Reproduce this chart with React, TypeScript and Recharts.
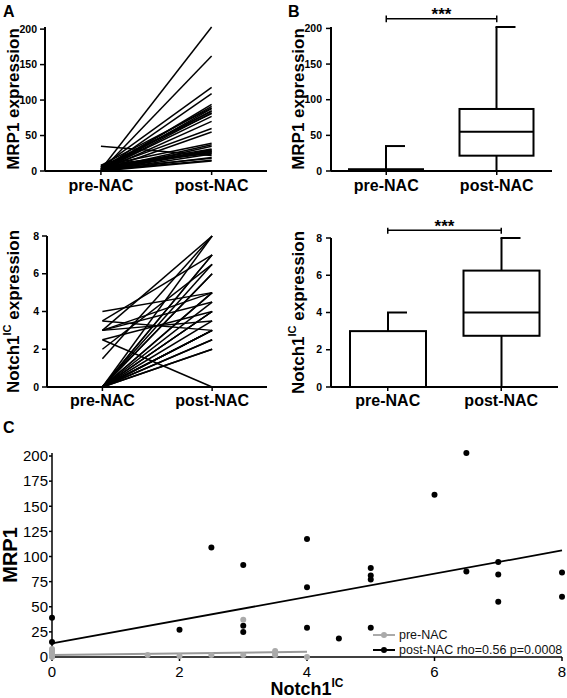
import React from "react";
import {
  ComposedChart,
  LineChart,
  Line,
  Bar,
  Scatter,
  XAxis,
  YAxis,
  ReferenceLine,
  Legend,
} from "recharts";

const FONT = '"Liberation Sans", Arial, Helvetica, sans-serif';

// categories
const CATS = ["pre-NAC", "post-NAC"];

// panel A, paired values per patient
const mrp1Pre = [2, 0, 5, 1, 0, 3, 8, 0, 2, 4, 0, 6, 1, 0, 3, 0, 7, 2, 0, 5, 1, 0, 4, 35, 0, 2, 6, 0, 3, 1, 0, 8];
const mrp1Post = [203, 162, 118, 109, 94, 91, 89, 88, 85, 84, 82, 81, 77, 70, 60, 55, 39, 37, 35, 31, 29, 28, 27, 22, 24, 30, 25, 19, 18, 15, 14, 26];
const notchPre = [4, 3.5, 3.5, 3, 3, 3, 3, 2.5, 2.5, 2, 1.5, 0, 0, 0, 0, 0, 0, 0, 0, 0, 0, 0, 0, 0, 0, 0, 0, 0, 0, 0, 0, 0];
const notchPost = [5, 7, 3, 5, 4.5, 3.5, 8, 0, 4, 6.5, 8, 8, 7, 7, 6.5, 6, 6, 5, 5, 4.5, 4, 4, 4, 3.5, 3, 3, 3, 2.5, 2.5, 2, 2, 3];

// panel B, box plot stats [pre, post]
const mrp1Min = [0, 0];
const mrp1Q1 = [0, 21.5];
const mrp1Med = [0.5, 55];
const mrp1Q3 = [2.5, 87];
const mrp1Max = [35, 202];
const notchMin = [0, 0];
const notchQ1 = [0, 2.75];
const notchMed = [0, 4];
const notchQ3 = [3, 6.25];
const notchMax = [4, 8];

// panel C scatter
const postNotchC = [0, 0, 2, 2.5, 3, 3, 3, 4, 4, 4, 4.5, 5, 5, 5, 5, 6, 6.5, 6.5, 7, 7, 7, 8, 8];
const postMrpC = [39, 15, 27, 109, 91.5, 31, 25, 117.5, 69.5, 29, 18.5, 88.5, 81, 77, 29, 161.5, 203, 85, 94.5, 82, 55, 84, 60];
const preNotchC = [0, 0, 0, 0, 0, 0, 0, 0, 0, 1.5, 2, 2.5, 3, 3, 3.5, 3.5, 3.5, 4];
const preMrpC = [0, 1, 2, 3, 4, 5, 6, 7, 8, 2, 1, 2, 37, 2, 2, 4, 6, 0];
// fitted lines (end points)
const postFitX = [0, 8];
const postFitY = [13.5, 106];
const preFitX = [0, 4];
const preFitY = [2, 5.2];

const pairedRows = (pre: number[], post: number[]) => [
  Object.fromEntries([["x", 0], ...pre.map((v, i) => [`s${i}`, v])]),
  Object.fromEntries([["x", 1], ...post.map((v, i) => [`s${i}`, v])]),
];

const boxRows = (mn: number[], q1: number[], md: number[], q3: number[], mx: number[]) =>
  CATS.map((c, i) => ({ cat: c, range: [mn[i], mx[i]], min: mn[i], q1: q1[i], median: md[i], q3: q3[i], max: mx[i] }));

const zip = (xs: number[], ys: number[]) => xs.map((x, i) => ({ x, y: ys[i] }));

const axisLine = { stroke: "#000", strokeWidth: 2 };
const tickLine = { stroke: "#000", strokeWidth: 1.5 };
const boldTick = (size: number) => ({ fill: "#000", fontSize: size, fontWeight: "bold", fontFamily: FONT });

function RotLabel({ viewBox, cx, size, children }: any) {
  const x = (viewBox?.x ?? 0) + cx;
  const y = (viewBox?.y ?? 0) + (viewBox?.height ?? 0) / 2;
  return (
    <text x={x} y={y} transform={`rotate(-90, ${x}, ${y})`} textAnchor="middle" dominantBaseline="central"
      fontSize={size} fontWeight="bold" fill="#000" fontFamily={FONT}>
      {children}
    </text>
  );
}

function NotchText({ size }: { size: number }) {
  return (
    <>
      <tspan>Notch1</tspan>
      <tspan fontSize={size * 0.65} dy={-size * 0.38}>IC</tspan>
      <tspan dy={size * 0.38}> expression</tspan>
    </>
  );
}

function BoxShape(props: any) {
  const { x, y, width, height, payload } = props;
  const top = Math.min(y, y + height);
  const bottom = Math.max(y, y + height);
  const { min, max, q1, median, q3 } = payload;
  const k = (bottom - top) / (max - min);
  const py = (v: number) => bottom - (v - min) * k;
  const cx = x + width / 2;
  const st = { stroke: "#000", strokeWidth: 2 };
  return (
    <g>
      <line x1={cx} x2={cx} y1={py(max)} y2={py(q3)} {...st} />
      <line x1={cx} x2={cx} y1={py(q1)} y2={py(min)} {...st} />
      <line x1={cx - 1} x2={cx + 19} y1={py(max)} y2={py(max)} {...st} />
      <rect x={x} y={py(q3)} width={width} height={Math.max(py(q1) - py(q3), 0.5)} fill="#fff" {...st} />
      <line x1={x} x2={x + width} y1={py(median)} y2={py(median)} {...st} />
    </g>
  );
}

function PairedChart({ pre, post, height, top, yw, domainY, ticksY, label, tickMargin }: any) {
  const rows = pairedRows(pre, post);
  return (
    <LineChart width={285} height={height} data={rows} margin={{ top, right: 18, bottom: 0, left: 0 }}>
      <XAxis dataKey="x" type="number" domain={[-0.505, 1.5]} ticks={[0, 1]} allowDataOverflow interval={0}
        tickFormatter={(v: number) => CATS[v]} height={height - top - (height === 200 ? 144 : 151)}
        axisLine={axisLine} tickLine={tickLine} tickSize={4} tickMargin={tickMargin} tick={boldTick(16)} />
      <YAxis domain={domainY} ticks={ticksY} width={yw} interval={0} axisLine={axisLine} tickLine={tickLine}
        tickSize={5} tickMargin={3} tick={boldTick(10.5)} label={label} />
      {pre.map((_: number, i: number) => (
        <Line key={i} dataKey={`s${i}`} stroke="#000" strokeWidth={1.5} dot={false} isAnimationActive={false} />
      ))}
    </LineChart>
  );
}

function BoxChart({ rows, height, top, right, domainY, ticksY, label, sigY, sigHi, sigLo, sigOffset, barSize, tickMargin }: any) {
  return (
    <ComposedChart width={282} height={height} data={rows} margin={{ top, right, bottom: 0, left: 0 }}>
      <XAxis dataKey="cat" height={height === 200 ? 29 : 28} axisLine={axisLine} tickLine={tickLine} tickSize={4}
        tickMargin={tickMargin} tick={boldTick(16)} interval={0} />
      <YAxis domain={domainY} ticks={ticksY} width={46} interval={0} axisLine={axisLine} tickLine={tickLine}
        tickSize={5} tickMargin={4} tick={boldTick(10.5)} label={label} />
      <Bar dataKey="range" barSize={barSize} shape={<BoxShape />} isAnimationActive={false} />
      <ReferenceLine ifOverflow="visible" stroke="#000" strokeWidth={1.5}
        segment={[{ x: CATS[0], y: sigY }, { x: CATS[1], y: sigY }]}
        label={{ value: "***", position: "top", offset: sigOffset, fill: "#000", fontSize: 17, fontWeight: "bold", fontFamily: FONT }} />
      <ReferenceLine ifOverflow="visible" stroke="#000" strokeWidth={1.5}
        segment={[{ x: CATS[0], y: sigHi }, { x: CATS[0], y: sigLo }]} />
      <ReferenceLine ifOverflow="visible" stroke="#000" strokeWidth={1.5}
        segment={[{ x: CATS[1], y: sigHi }, { x: CATS[1], y: sigLo }]} />
    </ComposedChart>
  );
}

function CLegend() {
  const items = [
    { name: "pre-NAC", color: "#aaaaaa" },
    { name: "post-NAC rho=0.56 p=0.0008", color: "#000" },
  ];
  return (
    <div style={{ fontFamily: FONT, fontSize: 12.5, color: "#111" }}>
      {items.map((it) => (
        <div key={it.name} style={{ display: "flex", alignItems: "center", height: 15, whiteSpace: "nowrap" }}>
          <svg width={22} height={10} style={{ marginRight: 4 }}>
            <line x1={0} x2={22} y1={5} y2={5} stroke={it.color} strokeWidth={2} />
            <circle cx={11} cy={5} r={3} fill={it.color} />
          </svg>
          <span>{it.name}</span>
        </div>
      ))}
    </div>
  );
}

function XLabelC({ viewBox }: any) {
  const x = viewBox.x + viewBox.width / 2;
  const y = viewBox.y + 38;
  return (
    <text x={x} y={y} textAnchor="middle" fontSize={18} fontWeight="bold" fill="#000" fontFamily={FONT}>
      <tspan>Notch1</tspan>
      <tspan fontSize={12} dy={-8}>IC</tspan>
    </text>
  );
}

const panelLetter = (t: string, left: number, top: number) => (
  <div style={{ position: "absolute", left, top, fontFamily: FONT, fontWeight: "bold", fontSize: 16, lineHeight: "16px" }}>{t}</div>
);

export default function App() {
  const mrpBox = boxRows(mrp1Min, mrp1Q1, mrp1Med, mrp1Q3, mrp1Max);
  const notchBox = boxRows(notchMin, notchQ1, notchMed, notchQ3, notchMax);
  const postPts = zip(postNotchC, postMrpC);
  const prePts = zip(preNotchC, preMrpC);
  const postFit = zip(postFitX, postFitY);
  const preFit = zip(preFitX, preFitY);
  const cTick = { fill: "#000", fontSize: 15, fontFamily: FONT };

  return (
    <div style={{ position: "absolute", left: 0, top: 0, width: 567, height: 698, background: "#fff", fontFamily: FONT, overflow: "hidden" }}>
      <div style={{ position: "absolute", left: 0, top: 0 }}>
        <PairedChart pre={mrp1Pre} post={mrp1Post} height={200} top={27} yw={45} domainY={[0, 200]}
          ticksY={[0, 50, 100, 150, 200]} tickMargin={5}
          label={<RotLabel cx={13} size={17}>MRP1 expression</RotLabel>} />
      </div>
      <div style={{ position: "absolute", left: 0, top: 200 }}>
        <PairedChart pre={notchPre} post={notchPost} height={215} top={36} yw={47} domainY={[0, 8]}
          ticksY={[0, 2, 4, 6, 8]} tickMargin={4}
          label={<RotLabel cx={13} size={17}><NotchText size={17} /></RotLabel>} />
      </div>
      <div style={{ position: "absolute", left: 285, top: 0 }}>
        <BoxChart rows={mrpBox} height={200} top={27} right={15} domainY={[0, 200]} ticksY={[0, 50, 100, 150, 200]}
          label={<RotLabel cx={13} size={17}>MRP1 expression</RotLabel>} sigY={213.4} sigHi={218} sigLo={208.5}
          sigOffset={-1} barSize={74} tickMargin={5} />
      </div>
      <div style={{ position: "absolute", left: 285, top: 200 }}>
        <BoxChart rows={notchBox} height={215} top={38} right={9} domainY={[0, 8]} ticksY={[0, 2, 4, 6, 8]}
          label={<RotLabel cx={13} size={17}><NotchText size={17} /></RotLabel>} sigY={8.41} sigHi={8.55} sigLo={8.23}
          sigOffset={-2} barSize={76} tickMargin={4} />
      </div>
      <div style={{ position: "absolute", left: 0, top: 400 }}>
        <ComposedChart width={567} height={298} margin={{ top: 53, right: 5, bottom: 0, left: 0 }}>
          <XAxis dataKey="x" type="number" domain={[0, 8]} ticks={[0, 2, 4, 6, 8]} interval={0} height={41}
            axisLine={{ stroke: "#000", strokeWidth: 1.5 }} tickLine={{ stroke: "#000", strokeWidth: 1.5 }}
            tickSize={4} tickMargin={5} tick={cTick} label={<XLabelC />} />
          <YAxis dataKey="y" type="number" domain={[0, 200]} ticks={[0, 25, 50, 75, 100, 125, 150, 175, 200]}
            interval={0} width={52} axisLine={{ stroke: "#000", strokeWidth: 1.5 }}
            tickLine={{ stroke: "#000", strokeWidth: 1.5 }} tickSize={3} tickMargin={1} tick={cTick}
            label={<RotLabel cx={10} size={20}>MRP1</RotLabel>} />
          <Line data={postFit} dataKey="y" stroke="#000" strokeWidth={1.8} dot={false} isAnimationActive={false} />
          <Scatter data={postPts} dataKey="y" fill="#000" shape={(p: any) => <circle cx={p.cx} cy={p.cy} r={3} fill="#000" />} isAnimationActive={false} />
          <Line data={preFit} dataKey="y" stroke="#999" strokeWidth={2} dot={false} isAnimationActive={false} />
          <Scatter data={prePts} dataKey="y" fill="#aaa" shape={(p: any) => <circle cx={p.cx} cy={p.cy} r={3} fill="#aaaaaa" />} isAnimationActive={false} />
          <Legend layout="horizontal" verticalAlign="middle" align="center" content={() => <CLegend />}
            wrapperStyle={{ left: 373, top: 227, width: 200 }} />
        </ComposedChart>
      </div>
      {panelLetter("A", 3, 4)}
      {panelLetter("B", 288, 4)}
      {panelLetter("C", 3, 420)}
    </div>
  );
}
